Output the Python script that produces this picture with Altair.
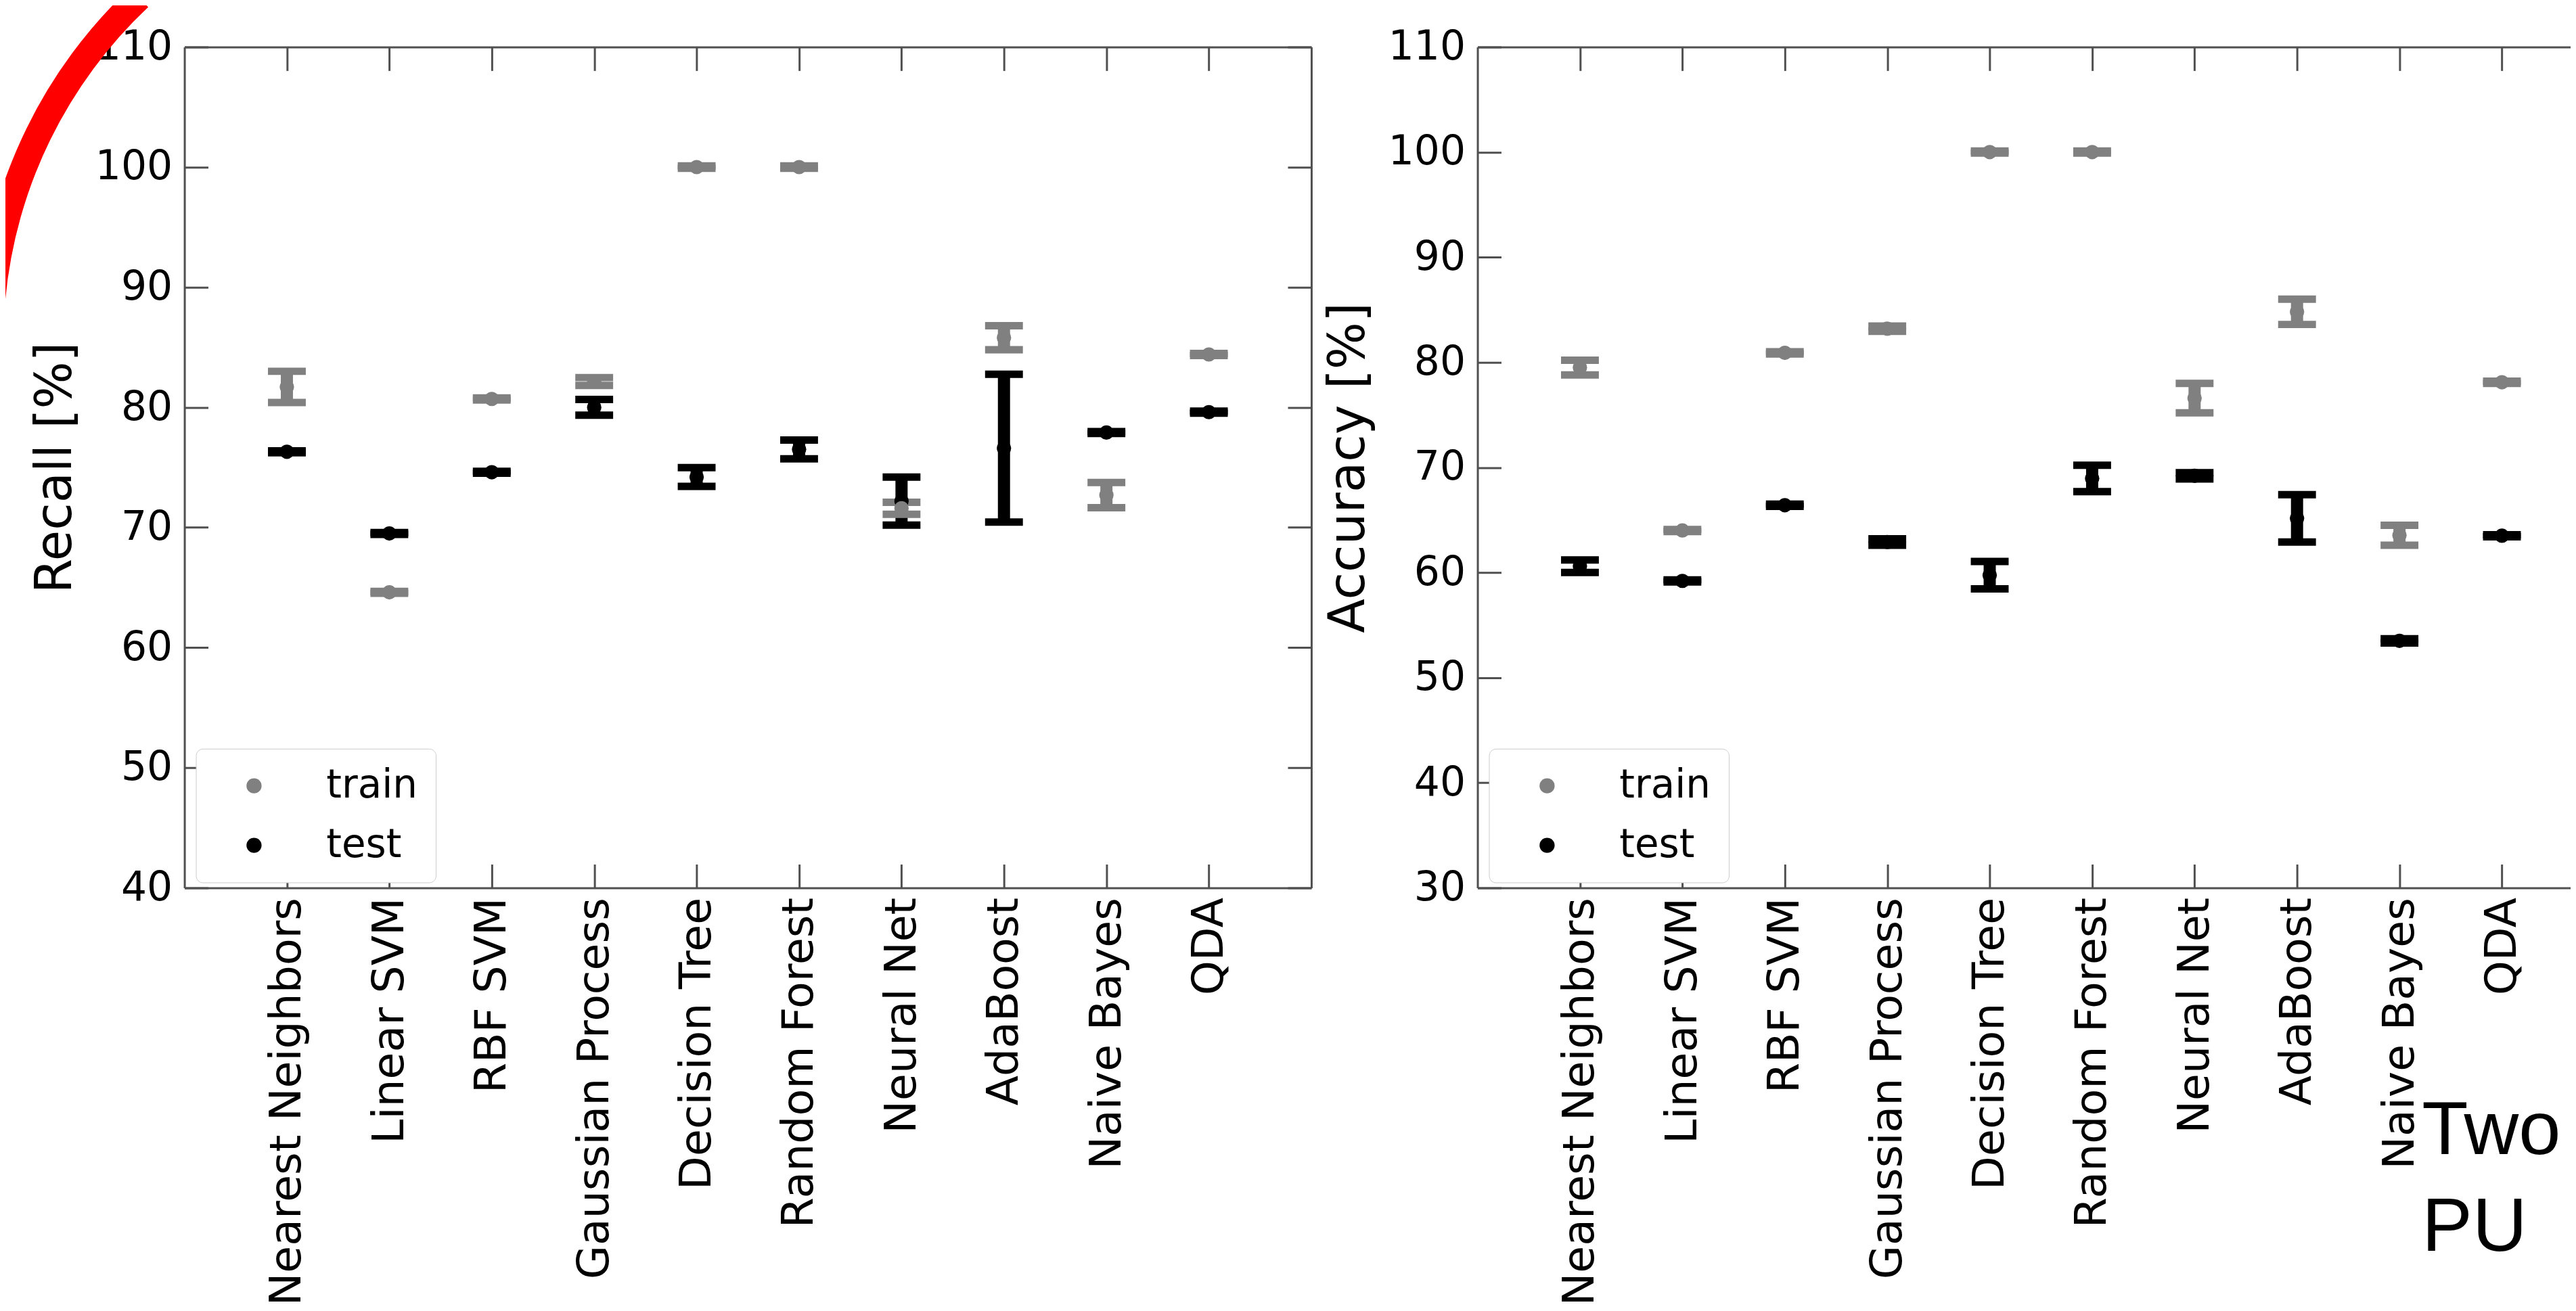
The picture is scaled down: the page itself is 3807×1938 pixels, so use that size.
import json
import altair as alt
import pandas as pd

# ---------------- data ----------------
models = ["Nearest Neighbors", "Linear SVM", "RBF SVM", "Gaussian Process", "Decision Tree",
          "Random Forest", "Neural Net", "AdaBoost", "Naive Bayes", "QDA"]
series_names = ["train", "test"]

recall_train = [81.7, 64.6, 80.7, 82.15, 100.0, 100.0, 71.6, 85.8, 72.7, 84.4]
recall_train_err = [1.3, 0.08, 0.08, 0.33, 0.1, 0.1, 0.5, 1.0, 1.05, 0.08]
recall_test = [76.3, 69.5, 74.6, 80.0, 74.2, 76.5, 72.2, 76.6, 77.9, 79.6]
recall_test_err = [0.08, 0.08, 0.08, 0.65, 0.78, 0.78, 2.0, 6.15, 0.08, 0.08]

acc_train = [79.5, 64.0, 80.9, 83.2, 100.0, 100.0, 76.6, 84.8, 63.55, 78.1]
acc_train_err = [0.7, 0.1, 0.1, 0.25, 0.1, 0.1, 1.4, 1.2, 0.95, 0.1]
acc_test = [60.6, 59.2, 66.4, 62.9, 59.75, 68.95, 69.2, 65.15, 53.5, 63.5]
acc_test_err = [0.6, 0.1, 0.1, 0.3, 1.3, 1.25, 0.3, 2.25, 0.2, 0.1]

recall_ticks = [40, 50, 60, 70, 80, 90, 100, 110]
acc_ticks = [30, 40, 50, 60, 70, 80, 90, 100, 110]
note_text = ["Two", "PU"]

# ---------------- style ----------------
GRAY = "#808080"
BLACK = "#000000"
SPINE = "#505050"
RED = "#ff0000"
FONT = "DejaVu Sans"
PLOT_W = 1668
PLOT_H = 1245
SPACING = 246
TICK_LEN = 35


def build(train, train_err, test, test_err):
    rows = []
    for s, vals, errs in (("test", test, test_err), ("train", train, train_err)):
        for i, (m, v, e) in enumerate(zip(models, vals, errs)):
            rows.append({"pos": i + 1, "model": m, "set": s, "val": v,
                         "lo": v - e, "hi": v + e})
    return pd.DataFrame(rows)


xvals = list(range(1, len(models) + 1))
label_expr = json.dumps(models) + "[datum.value - 1]"


def tick_axis(orient, values):
    return alt.Axis(orient=orient, values=values, offset=-TICK_LEN, tickSize=TICK_LEN,
                    ticks=True, tickWidth=3, tickColor=SPINE, labels=False, domain=False,
                    title=None, grid=False)


def spine_axis(orient):
    return alt.Axis(orient=orient, ticks=False, labels=False, domain=True,
                    domainColor=SPINE, domainWidth=3, title=None, grid=False)


def panel(df, ytitle, ydomain, yvalues, extra_after=()):
    xs = alt.Scale(domain=[0, len(models) + 1], nice=False, zero=False)
    ys = alt.Scale(domain=ydomain, nice=False, zero=False)
    cscale = alt.Scale(domain=series_names, range=[GRAY, BLACK])
    legend = alt.Legend(title=None, orient="none", legendX=17, legendY=1039,
                        fillColor="white", strokeColor="#cccccc", cornerRadius=10,
                        padding=26, labelFontSize=58, labelFont=FONT, labelColor="black",
                        labelLimit=400, symbolSize=500, symbolType="circle",
                        symbolOffset=31, labelOffset=78, rowPadding=30,
                        symbolStrokeWidth=0)
    x_main = alt.Axis(orient="bottom", values=xvals, labelExpr=label_expr, labelAngle=-90,
                      labelFontSize=65, labelPadding=14, labelLimit=1000, labelFlush=False,
                      labelOverlap=False, ticks=False, tickSize=0, domain=True,
                      domainColor=SPINE, domainWidth=3, title=None, grid=False)
    y_main = alt.Axis(orient="left", values=yvalues, labelFontSize=60, labelPadding=18,
                      labelOverlap=False, ticks=False, tickSize=0, domain=True,
                      domainColor=SPINE, domainWidth=3, title=ytitle, titleFontSize=74,
                      titlePadding=20, grid=False)

    base = alt.Chart(df)
    rules = base.mark_rule(strokeWidth=18).encode(
        x=alt.X("pos:Q", scale=xs, axis=None),
        y=alt.Y("lo:Q", scale=ys, axis=None), y2="hi:Q",
        stroke=alt.Stroke("set:N", scale=cscale, legend=None))
    caps_lo = base.mark_tick(orient="horizontal", size=56, thickness=11, opacity=1).encode(
        x=alt.X("pos:Q", scale=xs, axis=None),
        y=alt.Y("lo:Q", scale=ys, axis=None),
        fill=alt.Fill("set:N", scale=cscale, legend=None))
    caps_hi = base.mark_tick(orient="horizontal", size=56, thickness=11, opacity=1).encode(
        x=alt.X("pos:Q", scale=xs, axis=None),
        y=alt.Y("hi:Q", scale=ys, axis=None),
        fill=alt.Fill("set:N", scale=cscale, legend=None))
    points = base.mark_circle(size=450, opacity=1).encode(
        x=alt.X("pos:Q", scale=xs, axis=x_main),
        y=alt.Y("val:Q", scale=ys, axis=y_main),
        color=alt.Color("set:N", scale=cscale, legend=legend))
    ticks_a = base.mark_point(opacity=0).encode(
        x=alt.X("pos:Q", scale=xs, axis=tick_axis("top", xvals)),
        y=alt.Y("val:Q", scale=ys, axis=tick_axis("left", yvalues)))
    ticks_b = base.mark_point(opacity=0).encode(
        x=alt.X("pos:Q", scale=xs, axis=tick_axis("bottom", xvals)),
        y=alt.Y("val:Q", scale=ys, axis=tick_axis("right", yvalues)))
    spines = base.mark_point(opacity=0).encode(
        x=alt.X("pos:Q", scale=xs, axis=spine_axis("top")),
        y=alt.Y("val:Q", scale=ys, axis=spine_axis("right")))
    layers = [rules, caps_lo, caps_hi, points, ticks_a, ticks_b, spines] + list(extra_after)
    return alt.layer(*layers).resolve_axis(x="independent", y="independent").properties(
        width=PLOT_W, height=PLOT_H)


# red annotation arc (decoration over the top-left corner), clipped by the page edge
ARC_CX, ARC_CY = 413, 437
ARC_R_OUT, ARC_R_IN = 720, 681
ARC_T1, ARC_T2 = 4.8062, 5.5283
arc = alt.Chart(pd.DataFrame({"k": [0]})).mark_arc(
    color=RED, radius=ARC_R_OUT, radius2=ARC_R_IN, theta=ARC_T1, theta2=ARC_T2
).encode(x=alt.value(ARC_CX), y=alt.value(ARC_CY))

# "Two PU" annotation text at the lower right
note = alt.Chart(pd.DataFrame({"t": ["\n".join(note_text)]})).mark_text(
    font="Liberation Sans", fontSize=112, align="left", baseline="alphabetic",
    color="black", lineBreak="\n", lineHeight=143
).encode(x=alt.value(1398), y=alt.value(1639), text="t:N")

left = panel(build(recall_train, recall_train_err, recall_test, recall_test_err),
             "Recall [%]", [40, 110], recall_ticks, extra_after=[arc])
right = panel(build(acc_train, acc_train_err, acc_test, acc_test_err),
              "Accuracy [%]", [30, 110], acc_ticks, extra_after=[note])

chart = alt.hconcat(left, right, spacing=SPACING, bounds="flush").resolve_legend(
    color="independent"
).properties(
    padding={"left": -39, "top": -28, "right": -52, "bottom": 2},
    background="white",
).configure_view(stroke=None).configure_axis(
    grid=False, labelFont=FONT, titleFont=FONT, labelColor="black", titleColor="black",
    titleFontWeight="normal"
)

chart.save("out.html", embed_options={"renderer": "svg", "actions": False})
